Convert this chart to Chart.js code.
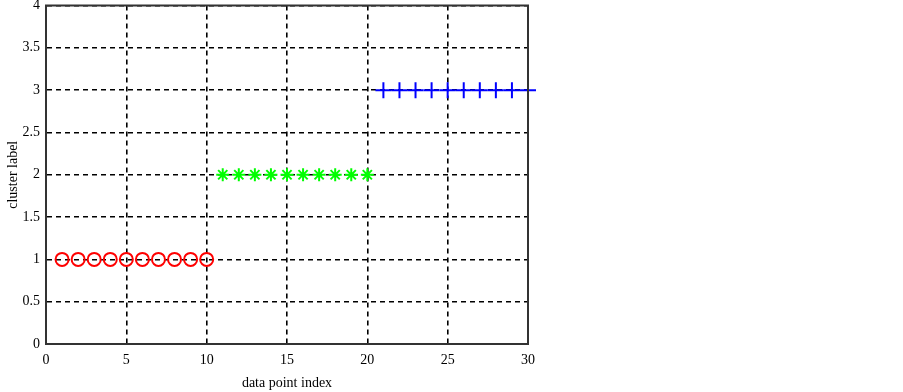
<!DOCTYPE html>
<html>
<head>
<meta charset="utf-8">
<script src="https://cdn.jsdelivr.net/npm/chart.js@4"></script>
<style>
  body { margin: 0; background: #fff; }
</style>
</head>
<body>
<canvas id="grafico" width="903" height="392"></canvas>
<script>
// indices e rotulos dos grupos
const pontos1 = [1, 2, 3, 4, 5, 6, 7, 8, 9, 10];
const rotulo1 = [1, 1, 1, 1, 1, 1, 1, 1, 1, 1];
const pontos2 = [11, 12, 13, 14, 15, 16, 17, 18, 19, 20];
const rotulo2 = [2, 2, 2, 2, 2, 2, 2, 2, 2, 2];
const pontos3 = [21, 22, 23, 24, 25, 26, 27, 28, 29, 30];
const rotulo3 = [3, 3, 3, 3, 3, 3, 3, 3, 3, 3];
const ticksX = [0, 5, 10, 15, 20, 25, 30];
const ticksY = [0, 0.5, 1, 1.5, 2, 2.5, 3, 3.5, 4];

function pares(xs, ys) {
    return xs.map((x, i) => ({ x: x, y: ys[i] }));
}

// moldura superior/direita
const moldura = {
    id: "moldura",
    afterDraw(chart) {
        const { ctx, chartArea: a } = chart;
        ctx.save();
        ctx.strokeStyle = "#333";
        ctx.lineWidth = 2;
        ctx.strokeRect(a.left, a.top, a.right - a.left, a.bottom - a.top);
        ctx.restore();
    },
};

document.addEventListener("DOMContentLoaded", () => {
    const ctx = document.getElementById("grafico").getContext("2d");
    Chart.defaults.font.family = "'Liberation Serif', 'Times New Roman', serif";
    Chart.defaults.font.size = 14;
    Chart.defaults.color = "#000";

    new Chart(ctx, {
        type: "scatter",
        data: {
            datasets: [
                {
                    data: pares(pontos1, rotulo1),
                    pointStyle: "circle",
                    radius: 6.5,
                    borderColor: "#ff0000",
                    backgroundColor: "rgba(0,0,0,0)",
                    borderWidth: 2,
                },
                {
                    data: pares(pontos2, rotulo2),
                    pointStyle: "star",
                    radius: 6.5,
                    borderColor: "#00ff00",
                    backgroundColor: "#00ff00",
                    borderWidth: 2,
                },
                {
                    data: pares(pontos3, rotulo3),
                    pointStyle: "cross",
                    radius: 8,
                    borderColor: "#0000ff",
                    backgroundColor: "#0000ff",
                    borderWidth: 2,
                },
            ],
        },
        options: {
            responsive: false,
            animation: false,
            clip: false,
            layout: { autoPadding: false, padding: { top: 5.5, right: 375, left: 0, bottom: 0 } },
            plugins: {
                legend: { display: false },
                tooltip: { enabled: false },
            },
            scales: {
                x: {
                    type: "linear",
                    min: 0,
                    max: 30,
                    afterBuildTicks: (s) => { s.ticks = ticksX.map((v) => ({ value: v })); },
                    afterFit: (s) => { s.height = 48; },
                    grid: {
                        color: "#000",
                        lineWidth: 1.6,
                        drawTicks: false,
                    },
                    border: { display: true, color: "#333", width: 2, dash: [5, 4] },
                    ticks: { padding: 8, callback: (v) => String(v) },
                    title: {
                        display: true,
                        text: "data point index",
                        padding: { top: 8, bottom: 0 },
                    },
                },
                y: {
                    min: 0,
                    max: 4,
                    afterBuildTicks: (s) => { s.ticks = ticksY.map((v) => ({ value: v })); },
                    afterFit: (s) => { s.width = 46; s.paddingTop = 0; s.paddingBottom = 0; },
                    grid: {
                        color: "#000",
                        lineWidth: 1.6,
                        drawTicks: false,
                    },
                    border: { display: true, color: "#333", width: 2, dash: [5, 4] },
                    ticks: { padding: 6, callback: (v) => String(v) },
                    title: {
                        display: true,
                        text: "cluster label",
                        padding: { top: 5, bottom: 0 },
                    },
                },
            },
        },
        plugins: [moldura],
    });
});
</script>
</body>
</html>
